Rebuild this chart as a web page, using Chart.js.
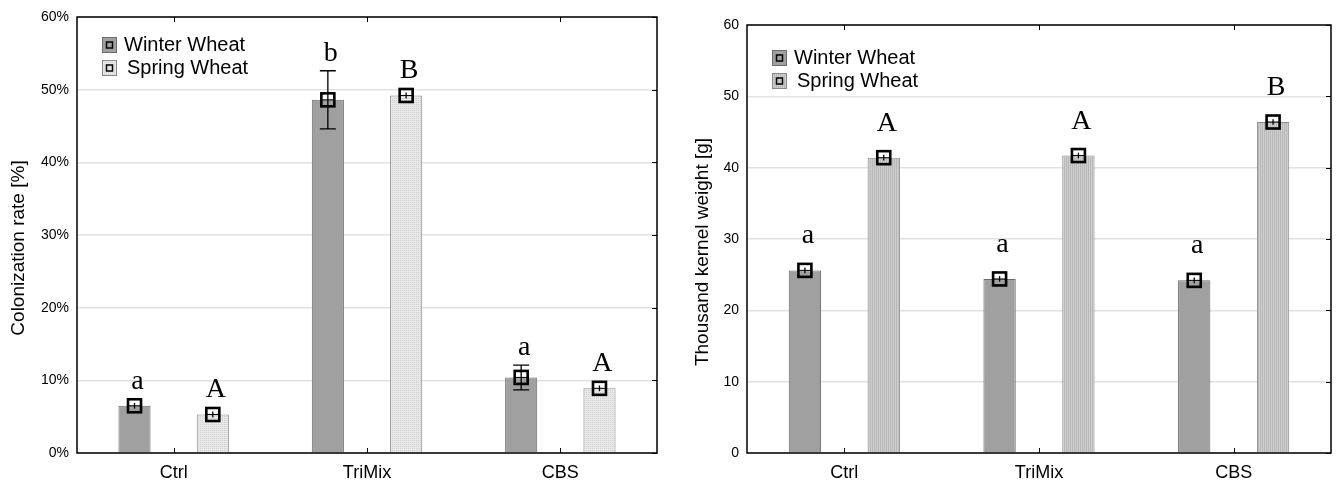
<!DOCTYPE html>
<html>
<head>
<meta charset="utf-8">
<script src="https://cdn.jsdelivr.net/npm/chart.js@4.4.1/dist/chart.umd.min.js"></script>
<style>
  body { margin: 0; background: #fff; }
  .panel { position: absolute; top: 0; height: 481px; }
  #leftBox { left: 0; width: 670px; }
  #rightBox { left: 680px; width: 663px; }
</style>
</head>
<body>
<div class="panel" id="leftBox"><canvas id="colonChart"></canvas></div>
<div class="panel" id="rightBox"><canvas id="tkwChart"></canvas></div>
<script>
// data
const categories = ['Ctrl', 'TriMix', 'CBS'];

const colonWinter = [6.5, 48.6, 10.4];
const colonSpring = [5.3, 49.2, 8.9];
const colonWinterErr = [0.4, 4.0, 1.7];
const colonSpringErr = [0.4, 0.4, 0.4];
const colonWinterLetters = ['a', 'b', 'a'];
const colonSpringLetters = ['A', 'B', 'A'];
const colonTicks = [0, 10, 20, 30, 40, 50, 60];

const tkwWinter = [25.6, 24.4, 24.2];
const tkwSpring = [41.4, 41.7, 46.4];
const tkwWinterErr = [0.4, 0.4, 0.4];
const tkwSpringErr = [0.4, 0.4, 0.4];
const tkwWinterLetters = ['a', 'a', 'a'];
const tkwSpringLetters = ['A', 'A', 'B'];
const tkwTicks = [0, 10, 20, 30, 40, 50, 60];

const SANS = '"Liberation Sans", Arial, sans-serif';
const SERIF = '"Liberation Serif", "Times New Roman", serif';

function makePattern(bg, fg, kind) {
    const c = document.createElement('canvas');
    c.width = 2; c.height = 2;
    const g = c.getContext('2d');
    g.fillStyle = bg;
    g.fillRect(0, 0, 2, 2);
    g.fillStyle = fg;
    if (kind === 'dots') {
        g.fillRect(0, 0, 1, 1);
    } else {
        g.fillRect(0, 0, 1, 2);
    }
    return g.createPattern(c, 'repeat');
}

// frame, inward ticks, error bars, markers, letters, legend, y title
const decorPlugin = {
    id: 'decor',
    afterDatasetsDraw(chart, args, opts) {
        const ctx = chart.ctx;
        const y = chart.scales.y;
        const x = chart.scales.x;
        const area = chart.chartArea;
        ctx.save();

        // frame
        ctx.strokeStyle = '#000';
        ctx.lineWidth = 1.5;
        ctx.strokeRect(area.left, area.top, area.right - area.left, area.bottom - area.top);

        ctx.lineWidth = 1;
        x.ticks.forEach((t, i) => {
            const px = Math.round(x.getPixelForTick(i)) + 0.5;
            ctx.beginPath();
            ctx.moveTo(px, area.bottom); ctx.lineTo(px, area.bottom - 5);
            ctx.moveTo(px, area.top); ctx.lineTo(px, area.top + 5);
            ctx.stroke();
        });
        y.ticks.forEach(t => {
            const py = Math.round(y.getPixelForValue(t.value)) + 0.5;
            ctx.beginPath();
            ctx.moveTo(area.right, py); ctx.lineTo(area.right - 5, py);
            ctx.stroke();
        });

        chart.data.datasets.forEach((ds, di) => {
            const meta = chart.getDatasetMeta(di);
            meta.data.forEach((bar, i) => {
                const v = ds.data[i];
                const e = ds.errors[i];
                const px = bar.x;
                const pTop = y.getPixelForValue(v + e);
                const pBot = y.getPixelForValue(v - e);
                const pMid = y.getPixelForValue(v);

                // error bar
                ctx.strokeStyle = '#000';
                ctx.lineWidth = 1.3;
                const cap = e > 1 ? 8 : 0;
                ctx.beginPath();
                ctx.moveTo(px, pTop); ctx.lineTo(px, pBot);
                if (cap) {
                    ctx.moveTo(px - cap, pTop); ctx.lineTo(px + cap, pTop);
                    ctx.moveTo(px - cap, pBot); ctx.lineTo(px + cap, pBot);
                }
                ctx.stroke();

                // mean marker
                ctx.lineWidth = 2.6;
                ctx.strokeRect(px - 6.5, pMid - 6.5, 13, 13);
                ctx.lineWidth = 1;
                ctx.beginPath();
                ctx.moveTo(px - 6.5, pMid); ctx.lineTo(px + 6.5, pMid);
                ctx.stroke();

                // significance letter
                const topMost = Math.min(pTop, pMid - 7);
                ctx.fillStyle = '#000';
                ctx.font = '28px ' + SERIF;
                ctx.textAlign = 'center';
                ctx.textBaseline = 'alphabetic';
                ctx.fillText(ds.letters[i], px + 3, topMost - opts.letterGap);
            });
        });

        // legend
        chart.data.datasets.forEach((ds, di) => {
            const bx = area.left + opts.legendX;
            const by = area.top + opts.legendY + di * 23;
            ctx.fillStyle = ds.backgroundColor;
            ctx.fillRect(bx, by, 15, 16);
            ctx.strokeStyle = ds.borderColor;
            ctx.lineWidth = 1;
            ctx.strokeRect(bx + 0.5, by + 0.5, 14, 15);
            ctx.strokeStyle = '#000';
            ctx.lineWidth = 1.5;
            ctx.strokeRect(bx + 4.5, by + 5, 6, 6);
            ctx.fillStyle = '#000';
            ctx.font = '20px ' + SANS;
            ctx.textAlign = 'left';
            ctx.textBaseline = 'middle';
            ctx.fillText(ds.label, bx + 22 + di * 3, by + 8);
        });

        // y axis title, sitting a little below the axis middle as in the figure
        ctx.translate(opts.titleX, (area.top + area.bottom) / 2 + 13);
        ctx.rotate(-Math.PI / 2);
        ctx.fillStyle = '#000';
        ctx.font = '19px ' + SANS;
        ctx.textAlign = 'center';
        ctx.textBaseline = 'middle';
        ctx.fillText(opts.title, 0, 0);

        ctx.restore();
    }
};

function buildChart(canvasId, cfg) {
    const ctx = document.getElementById(canvasId).getContext('2d');
    return new Chart(ctx, {
        type: 'bar',
        data: {
            labels: categories,
            datasets: [{
                label: 'Winter Wheat',
                data: cfg.winter,
                errors: cfg.winterErr,
                letters: cfg.winterLetters,
                backgroundColor: '#a0a0a0',
                borderColor: '#6c6c6c',
                borderWidth: 1,
                categoryPercentage: 0.81,
                barPercentage: 0.41
            }, {
                label: 'Spring Wheat',
                data: cfg.spring,
                errors: cfg.springErr,
                letters: cfg.springLetters,
                backgroundColor: cfg.springFill,
                borderColor: '#8a8a8a',
                borderWidth: 1,
                categoryPercentage: 0.81,
                barPercentage: 0.41
            }]
        },
        options: {
            responsive: true,
            maintainAspectRatio: false,
            animation: false,
            layout: { padding: cfg.padding },
            plugins: {
                legend: { display: false },
                tooltip: { enabled: false },
                decor: {
                    letterGap: cfg.letterGap, legendX: cfg.legendX, legendY: cfg.legendY,
                    title: cfg.title, titleX: cfg.titleX
                }
            },
            scales: {
                x: {
                    grid: { display: false, drawTicks: false },
                    border: { display: false },
                    ticks: { color: '#000', padding: 9, font: { family: SANS, size: 18 } },
                    afterFit(s) { s.height = 28; }
                },
                y: {
                    min: cfg.ticks[0],
                    max: cfg.ticks[cfg.ticks.length - 1],
                    afterBuildTicks(s) { s.ticks = cfg.ticks.map(v => ({ value: v })); },
                    grid: { color: '#e2e2e2', lineWidth: 1.5, drawTicks: false },
                    border: { display: false },
                    ticks: {
                        color: '#000',
                        padding: 8,
                        font: { family: SANS, size: 14 },
                        callback: cfg.tickFmt
                    },
                    afterFit(s) { s.width = cfg.axisWidth; }
                }
            }
        },
        plugins: [decorPlugin]
    });
}

buildChart('colonChart', {
    winter: colonWinter, spring: colonSpring,
    winterErr: colonWinterErr, springErr: colonSpringErr,
    winterLetters: colonWinterLetters, springLetters: colonSpringLetters,
    springFill: makePattern('#e8e8e8', '#d2d2d2', 'dots'),
    ticks: colonTicks,
    tickFmt: v => v + '%',
    title: 'Colonization rate [%]',
    titleX: 19,
    axisWidth: 77,
    padding: { left: 0, right: 13, top: 17, bottom: 0 },
    letterGap: 10,
    legendX: 25, legendY: 20
});

buildChart('tkwChart', {
    winter: tkwWinter, spring: tkwSpring,
    winterErr: tkwWinterErr, springErr: tkwSpringErr,
    winterLetters: tkwWinterLetters, springLetters: tkwSpringLetters,
    springFill: makePattern('#cecece', '#b8b8b8', 'lines'),
    ticks: tkwTicks,
    tickFmt: v => v,
    title: 'Thousand kernel weight [g]',
    titleX: 23,
    axisWidth: 67,
    padding: { left: 0, right: 12, top: 25, bottom: 0 },
    letterGap: 20,
    legendX: 25, legendY: 25
});
</script>
</body>
</html>
